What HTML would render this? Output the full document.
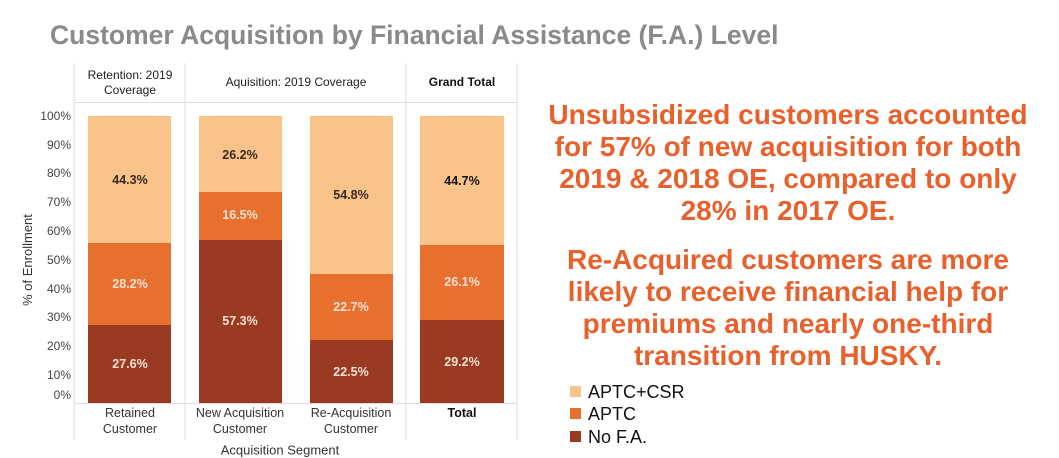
<!DOCTYPE html>
<html><head><meta charset="utf-8"><style>
body{margin:0;width:1059px;height:453px;background:#fff;overflow:hidden;position:relative;font-family:"Liberation Sans",sans-serif}
.a{position:absolute}
.t{position:absolute;white-space:nowrap;transform:translate(-50%,-50%);font-size:12.5px}
.w{color:#fbe3d3;font-weight:bold}
.d{color:#3a2a1a;font-weight:bold}
.r{position:absolute;left:530px;width:516px;text-align:center;color:#e8612c;font-weight:bold;font-size:28px;line-height:32px}
.lg{position:absolute;left:570px;font-size:18px;color:#111;line-height:20px}
.lg span{display:inline-block;width:11px;height:11px;margin-right:7px;vertical-align:1px}
</style></head><body>
<div class="a" style="left:50px;top:20px;font-size:26.5px;font-weight:bold;color:#8a8a8a">Customer Acquisition by Financial Assistance (F.A.) Level</div>
<svg class="a" style="left:0;top:0" width="540" height="453">
<g stroke="#ddd" stroke-width="1">
<line x1="74" y1="63" x2="74" y2="440"/><line x1="185" y1="63" x2="185" y2="440"/><line x1="406" y1="63" x2="406" y2="440"/><line x1="517" y1="63" x2="517" y2="440"/>
<line x1="74" y1="102.5" x2="517" y2="102.5"/><line x1="74" y1="403.5" x2="517" y2="403.5"/>
</g>
<g>
<rect x="88" y="116" width="83" height="127" fill="#f9c38a"/><rect x="88" y="243" width="83" height="82" fill="#e8702f"/><rect x="88" y="325" width="83" height="78" fill="#9b3a22"/>
<rect x="199" y="116" width="83" height="76" fill="#f9c38a"/><rect x="199" y="192" width="83" height="48" fill="#e8702f"/><rect x="199" y="240" width="83" height="163" fill="#9b3a22"/>
<rect x="310" y="116" width="83" height="158" fill="#f9c38a"/><rect x="310" y="274" width="83" height="66" fill="#e8702f"/><rect x="310" y="340" width="83" height="63" fill="#9b3a22"/>
<rect x="420" y="116" width="84" height="129" fill="#f9c38a"/><rect x="420" y="245" width="84" height="75" fill="#e8702f"/><rect x="420" y="320" width="84" height="83" fill="#9b3a22"/>
</g>
<g font-size="12" fill="#444" text-anchor="end" font-family="Liberation Sans">
<text x="71" y="120">100%</text><text x="71" y="149">90%</text><text x="71" y="177">80%</text><text x="71" y="206">70%</text><text x="71" y="235">60%</text><text x="71" y="264">50%</text><text x="71" y="293">40%</text><text x="71" y="321">30%</text><text x="71" y="350">20%</text><text x="71" y="379">10%</text><text x="71" y="399">0%</text>
</g>
<text x="32" y="260" font-size="13" fill="#333" text-anchor="middle" transform="rotate(-90 32 260)" font-family="Liberation Sans">% of Enrollment</text>
</svg>
<div class="t" style="left:130px;top:75px;color:#222;font-size:12px">Retention: 2019</div>
<div class="t" style="left:130px;top:90px;color:#222;font-size:12px">Coverage</div>
<div class="t" style="left:296px;top:82px;color:#222;font-size:12px">Aquisition: 2019 Coverage</div>
<div class="t" style="left:462px;top:82px;color:#111;font-size:12px;font-weight:bold">Grand Total</div>
<div class="t d" style="left:130px;top:180px">44.3%</div>
<div class="t w" style="left:130px;top:284px">28.2%</div>
<div class="t w" style="left:130px;top:364px">27.6%</div>
<div class="t d" style="left:240px;top:155px">26.2%</div>
<div class="t w" style="left:240px;top:215px">16.5%</div>
<div class="t w" style="left:240px;top:321px">57.3%</div>
<div class="t d" style="left:351px;top:195px">54.8%</div>
<div class="t w" style="left:351px;top:307px">22.7%</div>
<div class="t w" style="left:351px;top:372px">22.5%</div>
<div class="t d" style="left:462px;top:181px;color:#111">44.7%</div>
<div class="t w" style="left:462px;top:282px">26.1%</div>
<div class="t w" style="left:462px;top:362px">29.2%</div>
<div class="t" style="left:130px;top:413px;color:#333">Retained</div>
<div class="t" style="left:130px;top:429px;color:#333">Customer</div>
<div class="t" style="left:240px;top:413px;color:#333">New Acquisition</div>
<div class="t" style="left:240px;top:429px;color:#333">Customer</div>
<div class="t" style="left:351px;top:413px;color:#333">Re-Acquisition</div>
<div class="t" style="left:351px;top:429px;color:#333">Customer</div>
<div class="t" style="left:462px;top:413px;color:#111;font-weight:bold">Total</div>
<div class="t" style="left:280px;top:450px;color:#333;font-size:13px">Acquisition Segment</div>
<div class="r" style="top:99px">Unsubsidized customers accounted<br>for 57% of new acquisition for both<br>2019 &amp; 2018 OE, compared to only<br>28% in 2017 OE.</div>
<div class="r" style="top:244px">Re-Acquired customers are more<br>likely to receive financial help for<br>premiums and nearly one-third<br>transition from HUSKY.</div>
<div class="lg" style="top:382px"><span style="background:#f9c38a"></span>APTC+CSR</div>
<div class="lg" style="top:404px"><span style="background:#e8702f"></span>APTC</div>
<div class="lg" style="top:427px"><span style="background:#9b3a22"></span>No F.A.</div>
</body></html>
